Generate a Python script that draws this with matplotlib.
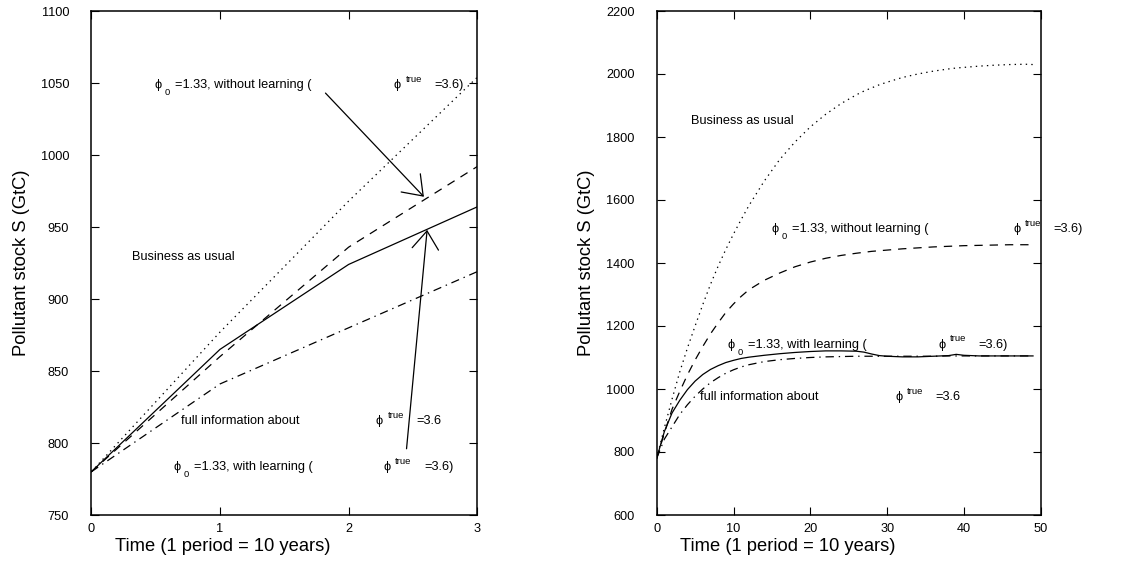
import matplotlib
matplotlib.use("Agg")
import matplotlib.pyplot as plt

plt.rcParams['font.family'] = ['Liberation Sans', 'DejaVu Sans']
plt.rcParams['lines.scale_dashes'] = False

# time in periods (1 period = 10 years)
periods = [0, 1, 2, 3, 4, 5, 6, 7, 8, 9, 10, 11, 12, 14, 16, 18, 20, 22, 24,
           26, 27, 28, 29, 30, 32, 34, 36, 38, 39, 40, 42, 44, 46, 48, 49]

business_as_usual = [780, 877, 968, 1054, 1130, 1200, 1268, 1332, 1390, 1443,
                     1492, 1538, 1582, 1660, 1728, 1784, 1832, 1872, 1906,
                     1934, 1946, 1956, 1966, 1974, 1989, 2000, 2009, 2016,
                     2019, 2021, 2025, 2028, 2030, 2031, 2030]

without_learning = [780, 860, 936, 992, 1045, 1092, 1135, 1175, 1210, 1243,
                    1270, 1294, 1315, 1345, 1368, 1388, 1403, 1415, 1424,
                    1431, 1434, 1437, 1439, 1441, 1445, 1448, 1451, 1453,
                    1454, 1455, 1456, 1457, 1458, 1458, 1458]

with_learning = [780, 865, 924, 964, 998, 1025, 1046, 1062, 1074, 1084,
                 1091, 1097, 1101, 1107, 1112, 1116, 1119, 1121, 1121,
                 1120, 1117, 1111, 1106, 1104, 1102, 1102, 1104, 1106,
                 1110, 1107, 1105, 1105, 1105, 1105, 1105]

full_information = [780, 841, 880, 919, 950, 977, 1000, 1020, 1036, 1050,
                    1061, 1070, 1077, 1087, 1093, 1097, 1100, 1102, 1103,
                    1104, 1104, 1104, 1104, 1104, 1104, 1104, 1104, 1105,
                    1105, 1105, 1105, 1105, 1105, 1105, 1105]

FS = 9.2
SMALL = 6.8
PX = 0.72  # points per pixel at 100 dpi

fig = plt.figure(figsize=(11.22, 5.63), dpi=100)
ax1 = fig.add_axes([91.3 / 1122, 48 / 563, 386 / 1122, 504 / 563])
ax2 = fig.add_axes([656.7 / 1122, 48 / 563, 384 / 1122, 504 / 563])


def draw_curves(ax, n):
    t = periods[:n]
    ax.plot(t, business_as_usual[:n], color='black', lw=0.9,
            linestyle=(0, (1, 3)))
    ax.plot(t, without_learning[:n], color='black', lw=0.9,
            linestyle=(0, (6, 5)))
    ax.plot(t, with_learning[:n], color='black', lw=0.9, linestyle='-')
    ax.plot(t, full_information[:n], color='black', lw=0.9,
            linestyle=(0, (6, 3.5, 1, 3.5)))


def style_axes(ax):
    for sp in ax.spines.values():
        sp.set_linewidth(1.1)
    ax.tick_params(direction='in', length=6, width=0.8, top=True, right=True,
                   labelsize=FS)
    ax.tick_params(axis='y', pad=16)
    ax.tick_params(axis='x', pad=6)
    ax.text(0.341, -0.063, 'Time (1 period = 10 years)', transform=ax.transAxes,
            ha='center', va='center', fontsize=13.2)
    ax.text(-0.182, 0.5, 'Pollutant stock S (GtC)', transform=ax.transAxes,
            ha='center', va='center', rotation=90, fontsize=13.2)


def put(ax, x, y, s, dx=0, dy=0, size=FS, ha='left'):
    ax.annotate(s, (x, y), xytext=(dx * PX, dy * PX), textcoords='offset points',
                ha=ha, va='center', fontsize=size, annotation_clip=False)


def phi_text(ax, x, y, tail, sub=False):
    put(ax, x, y, '\u03d5', ha='center')
    if sub:
        put(ax, x, y, '0', dx=6.5, dy=-7.5, size=SMALL)
        put(ax, x, y, tail, dx=16.7)
    else:
        put(ax, x, y, 'true', dx=8, dy=6, size=SMALL)
        put(ax, x, y, tail, dx=36.7)


# left panel: first three periods
draw_curves(ax1, 4)
ax1.set_xlim(0, 3)
ax1.set_ylim(750, 1100)
ax1.set_xticks([0, 1, 2, 3])
ax1.set_yticks(range(750, 1101, 50))
style_axes(ax1)

phi_text(ax1, 0.52, 1048.6, '=1.33, without learning (', sub=True)
phi_text(ax1, 2.38, 1048.6, '=3.6)')
put(ax1, 0.32, 929, 'Business as usual')
put(ax1, 0.70, 815, 'full information about')
phi_text(ax1, 2.24, 815, '=3.6')
phi_text(ax1, 0.67, 783, '=1.33, with learning (', sub=True)
phi_text(ax1, 2.30, 783, '=3.6)')

arrow = dict(arrowstyle='->,head_length=1.3,head_width=0.95', color='black',
             lw=0.9, shrinkA=0, shrinkB=0, mutation_scale=10)
ax1.annotate('', xy=(2.585, 971), xytext=(1.82, 1043), arrowprops=arrow)
ax1.annotate('', xy=(2.61, 948), xytext=(2.45, 796), arrowprops=arrow)

# right panel: fifty periods
draw_curves(ax2, len(periods))
ax2.set_xlim(0, 50)
ax2.set_ylim(600, 2200)
ax2.set_xticks(range(0, 51, 10))
ax2.set_yticks(range(600, 2201, 200))
style_axes(ax2)

put(ax2, 4.47, 1851, 'Business as usual')
phi_text(ax2, 15.4, 1507, '=1.33, without learning (', sub=True)
phi_text(ax2, 46.9, 1507, '=3.6)')
phi_text(ax2, 9.67, 1140, '=1.33, with learning (', sub=True)
phi_text(ax2, 37.1, 1140, '=3.6)')
put(ax2, 5.6, 974, 'full information about')
phi_text(ax2, 31.5, 974, '=3.6')

fig.savefig('out.png', dpi=100)
